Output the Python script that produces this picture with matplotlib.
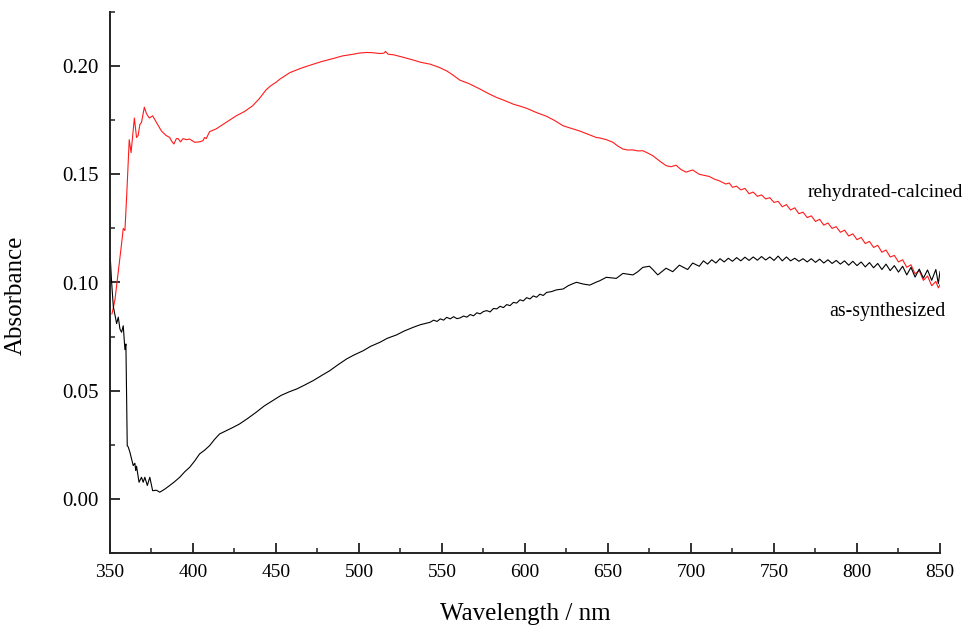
import numpy as np
import matplotlib
matplotlib.use("Agg")
import matplotlib.pyplot as plt
from matplotlib.ticker import MultipleLocator

plt.rcParams["font.family"] = ["Liberation Serif", "DejaVu Serif"]

# as-synthesized (black)
wl_as = [350, 351, 352, 353, 354, 355, 356, 357, 358, 359, 359.6, 360.4, 361, 362, 363, 364, 365,
         365.5, 366, 367.5, 369, 370, 371, 372.5, 374, 375.7, 378, 380, 383, 386, 389, 392, 395,
         398, 401, 404, 407, 410, 413, 416, 420, 424, 428, 433, 438, 443, 448, 453, 458, 462.5,
         467, 472.5, 477, 482.5, 487, 492.6, 497, 502.6, 507, 512.7, 517, 522.7, 527, 532.7, 537,
         542.8, 545, 547, 549, 551, 552.8, 555, 557, 559, 560.8, 563, 565, 567, 569, 571, 573,
         575, 577, 579, 581, 583, 585, 587, 589, 591, 593, 595, 597, 599, 601, 603, 605, 607,
         609, 611, 613, 616, 619, 623, 626, 629, 631, 635, 639, 643, 645, 649, 655, 659, 665,
         668, 671, 675, 677, 680, 685, 689, 693, 698, 701, 705,
         707.5, 710, 712.5, 715, 717.5, 720, 722.5, 725, 727.5, 730, 732.5, 735, 737.5, 740,
         742.5, 745, 747.5, 750, 752.5, 755, 757.5, 760, 762.5, 765, 767.5, 770, 772.5, 775,
         777.5, 780, 782.5, 785, 787.5, 790, 792.5, 795, 797.5, 800, 802.5, 805, 807.5, 810,
         812.5, 815, 817.5, 820, 822.5, 825, 827.5, 830, 832.5, 835, 837.5, 840, 842.5, 845,
         847.5, 849, 850]
abs_as = [0.114, 0.100, 0.089, 0.085, 0.081, 0.084, 0.0785, 0.077, 0.080, 0.069, 0.0716, 0.0246,
          0.024, 0.0216, 0.0185, 0.0154, 0.0165, 0.0131, 0.0151, 0.0077, 0.010, 0.0077, 0.010,
          0.0062, 0.010, 0.0038, 0.0040, 0.0031, 0.0045, 0.0062, 0.0080, 0.010, 0.0125, 0.0146,
          0.0175, 0.0208, 0.0225, 0.0246, 0.0275, 0.030, 0.0315, 0.033, 0.0346, 0.0372, 0.040,
          0.043, 0.0454, 0.0478, 0.0495, 0.0508, 0.0525, 0.0547, 0.0568, 0.0593, 0.0618, 0.0647,
          0.0665, 0.0685, 0.0705, 0.0724, 0.0742, 0.0758, 0.0775, 0.0793, 0.0805, 0.0816, 0.0826,
          0.0820, 0.0832, 0.0826, 0.0839, 0.0832, 0.0842, 0.0833, 0.0836, 0.0845, 0.0840, 0.0852,
          0.0846, 0.0860, 0.0855, 0.0866, 0.0870, 0.0864, 0.0880, 0.0878, 0.0890, 0.0884, 0.0898,
          0.0893, 0.0908, 0.0905, 0.0920, 0.0915, 0.0930, 0.0924, 0.0938, 0.0932, 0.0946, 0.0940,
          0.0954, 0.0958, 0.0966, 0.097, 0.0985, 0.0995, 0.1001, 0.0993, 0.0988, 0.1002, 0.1008,
          0.1024, 0.1019, 0.1042, 0.1035, 0.1050, 0.107, 0.1075, 0.1060, 0.1035, 0.1066, 0.105,
          0.108, 0.106, 0.109, 0.1075,
          0.1100, 0.1085, 0.1105, 0.1090, 0.1110, 0.1095, 0.1112, 0.1098, 0.1115, 0.1100, 0.1117,
          0.1102, 0.1118, 0.1103, 0.1120, 0.1104, 0.1118, 0.1102, 0.1122, 0.1100, 0.1118, 0.1100,
          0.1112, 0.1098, 0.1110, 0.1095, 0.1110, 0.1093, 0.1108, 0.1090, 0.1105, 0.1088, 0.1102,
          0.1085, 0.1100, 0.1080, 0.1098, 0.1078, 0.1095, 0.1072, 0.1092, 0.1068, 0.1088, 0.1060,
          0.1085, 0.1055, 0.1078, 0.1048, 0.1075, 0.1035, 0.1070, 0.1025, 0.1062, 0.1020, 0.1058,
          0.1010, 0.1060, 0.0995, 0.1050]

# rehydrated-calcined (red)
wl_rc = [351.2, 353, 355, 357, 358, 359, 360, 361.6, 362.7, 364.7, 366, 367, 368, 369,
         370.7, 372, 373.7, 375.7, 378, 381, 383.7, 386, 387, 388.5, 390, 391, 392.5, 394, 396,
         398, 401, 404, 406, 407, 408, 410, 414, 418, 422, 426, 431, 436, 440, 444, 447, 450,
         452.4, 458.4, 465, 472.5, 478, 484.5, 490, 496.6, 500, 504.6, 508, 512.7, 515, 516,
         517.5, 521, 526, 532.7, 537, 542.8, 548, 552.8, 556, 560.8, 566, 572.9, 578, 582.9, 588,
         593, 597, 601, 607, 613, 618, 623, 628, 633, 638, 643, 645, 649, 653, 656, 659, 662, 665,
         668, 671, 674, 677, 681, 685, 688, 691, 694, 697, 701, 705, 708, 711, 714, 717, 721,
         723, 725,
         727.5, 730, 732.5, 735, 737.5, 740, 742.5, 745, 747.5, 750, 752.5, 755, 757.5, 760,
         762.5, 765, 767.5, 770, 772.5, 775, 777.5, 780, 782.5, 785, 787.5, 790, 792.5, 795,
         797.5, 800, 802.5, 805, 807.5, 810, 812.5, 815, 817.5, 820, 822.5, 825, 827.5, 830,
         832.5, 835, 837.5, 840, 842.5, 845, 847.5, 849, 850]
abs_rc = [0.0855, 0.092, 0.105, 0.118, 0.125, 0.124, 0.139, 0.166, 0.160, 0.176, 0.167,
          0.168, 0.173, 0.174, 0.181, 0.178, 0.176, 0.177, 0.174, 0.170, 0.168, 0.167, 0.1655,
          0.164, 0.1665, 0.1665, 0.165, 0.1665, 0.166, 0.1663, 0.1648, 0.165, 0.1655, 0.167,
          0.1665, 0.1697, 0.171, 0.173, 0.175, 0.177, 0.179, 0.1817, 0.185, 0.189, 0.191, 0.1925,
          0.194, 0.197, 0.199, 0.2009, 0.2022, 0.2035, 0.2047, 0.2055, 0.206, 0.2063, 0.2062,
          0.2058, 0.2060, 0.2068, 0.2055, 0.2052, 0.2042, 0.2028, 0.2018, 0.2009, 0.1995, 0.1978,
          0.1962, 0.1935, 0.192, 0.1894, 0.1873, 0.1855, 0.1840, 0.1824, 0.1815, 0.1805, 0.1785,
          0.1768, 0.1748, 0.1724, 0.1712, 0.170, 0.1685, 0.167, 0.1668, 0.1660, 0.1648, 0.1630,
          0.1617, 0.1612, 0.1613, 0.1608, 0.1609, 0.1598, 0.1586, 0.1562, 0.154, 0.1535, 0.1542,
          0.1522, 0.151, 0.152, 0.150, 0.1495, 0.149, 0.1478, 0.147, 0.1455, 0.146, 0.144,
          0.1445, 0.1428, 0.1435, 0.1410, 0.1418, 0.1398, 0.1405, 0.1386, 0.1392, 0.1370, 0.1375,
          0.1350, 0.1360, 0.1335, 0.1345, 0.1318, 0.1325, 0.1300, 0.1308, 0.1282, 0.1292, 0.1265,
          0.1275, 0.1250, 0.1258, 0.1232, 0.1242, 0.1215, 0.1225, 0.1198, 0.1208, 0.1180, 0.1190,
          0.1162, 0.1172, 0.1140, 0.1150, 0.1118, 0.1125, 0.1095, 0.1105, 0.1070, 0.1082, 0.1040,
          0.1055, 0.1010, 0.1030, 0.0985, 0.1005, 0.0975, 0.0990]

fig = plt.figure(figsize=(9.63, 6.25), dpi=100)
ax = fig.add_axes([0.1142, 0.1152, 0.8619, 0.8656])

ax.plot(wl_rc, abs_rc, color="#ff1a1a", lw=0.8)
ax.plot(wl_as, abs_as, color="black", lw=0.8)

ax.set_xlim(350, 850)
ax.set_ylim(-0.025, 0.225)

ax.xaxis.set_major_locator(MultipleLocator(50))
ax.xaxis.set_minor_locator(MultipleLocator(25))
ax.yaxis.set_major_locator(MultipleLocator(0.05))
ax.yaxis.set_minor_locator(MultipleLocator(0.025))
ax.yaxis.set_major_formatter(matplotlib.ticker.FormatStrFormatter("%.2f"))

ax.spines["top"].set_visible(False)
ax.spines["right"].set_visible(False)
for s in ["left", "bottom"]:
    ax.spines[s].set_linewidth(1.4)
    ax.spines[s].set_color("#222222")

ax.tick_params(which="major", direction="in", length=7, width=1.3, pad=8, color="#222222")
ax.tick_params(which="minor", direction="in", length=3.5, width=1.1, color="#222222")
ax.tick_params(axis="x", labelsize=14)
ax.tick_params(axis="y", labelsize=15)

ax.set_xlabel("Wavelength / nm", fontsize=18)
ax.set_ylabel("Absorbance", fontsize=18)
ax.xaxis.set_label_coords(0.5, -0.093)
ax.yaxis.set_label_coords(-0.1, 0.477)

ax.text(770, 0.1418, "rehydrated-calcined", fontsize=14, ha="left", va="center")
ax.text(783, 0.0864, "as-synthesized", fontsize=14.3, ha="left", va="center")

fig.savefig("out.png", dpi=100)
